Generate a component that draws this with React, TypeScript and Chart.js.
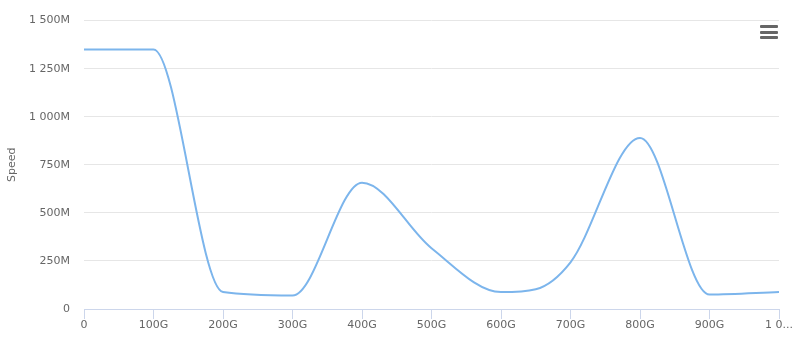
import React, { useEffect, useRef } from "react";
import { Chart, registerables } from "chart.js";

Chart.register(...registerables);

const sizesG = [0, 100, 200, 300, 400, 500, 600, 650, 700, 800, 900, 1000];
const speedM = [1350, 1350, 88, 70, 657, 316, 88, 103, 243, 890, 75, 88];
const xTickLabels = ["0", "100G", "200G", "300G", "400G", "500G", "600G", "700G", "800G", "900G", "1 0..."];
const yTickLabels = ["0", "250M", "500M", "750M", "1 000M", "1 250M", "1 500M"];
const yTitle = "Speed";

const FONT = "'DejaVu Sans', sans-serif";

export default function App() {
  const ref = useRef<HTMLCanvasElement | null>(null);
  useEffect(() => {
    document.body.style.margin = "0";
    const ctx = ref.current!;
    const chart = new Chart(ctx, {
      type: "line",
      data: {
        datasets: [
          {
            data: sizesG.map((x, i) => ({ x, y: speedM[i] })),
            borderColor: "#7cb5ec",
            borderWidth: 2,
            pointRadius: 0,
            cubicInterpolationMode: "monotone",
            fill: false,
          },
        ],
      },
      options: {
        animation: false,
        responsive: false,
        maintainAspectRatio: false,
        layout: { padding: { left: 0, right: 20, top: 18, bottom: 0 } },
        plugins: { legend: { display: false }, tooltip: { enabled: false } },
        scales: {
          x: {
            type: "linear",
            min: 0,
            max: 1000,
            afterFit: (s: any) => {
              s.height = 28;
            },
            ticks: {
              stepSize: 100,
              autoSkip: false,
              maxRotation: 0,
              padding: 0,
              color: "#666666",
              font: { family: FONT, size: 11 },
              callback: (_v: any, i: number) => xTickLabels[i],
            },
            grid: {
              drawOnChartArea: false,
              drawTicks: true,
              tickLength: 10,
              color: "#ccd6eb",
            },
            border: { color: "#ccd6eb", width: 1 },
          },
          y: {
            min: 0,
            max: 1500,
            afterFit: (s: any) => {
              s.width = 84;
            },
            ticks: {
              stepSize: 250,
              padding: 14,
              color: "#666666",
              font: { family: FONT, size: 11 },
              callback: (_v: any, i: number) => yTickLabels[i],
            },
            grid: { color: "#e6e6e6", drawTicks: false },
            border: { display: false },
            title: {
              display: true,
              text: yTitle,
              color: "#666666",
              font: { family: FONT, size: 11 },
              padding: { top: 6, bottom: 0 },
            },
          },
        },
      },
    });
    return () => chart.destroy();
  }, []);
  const bar: React.CSSProperties = {
    position: "absolute",
    left: 760,
    width: 18,
    height: 3,
    background: "#666666",
    borderRadius: 1,
  };
  return (
    <div style={{ position: "relative", width: 799, height: 337, background: "#ffffff" }}>
      <canvas ref={ref} width={799} height={337} style={{ display: "block" }} />
      <div style={{ ...bar, top: 25 }} />
      <div style={{ ...bar, top: 30.5 }} />
      <div style={{ ...bar, top: 36 }} />
    </div>
  );
}
